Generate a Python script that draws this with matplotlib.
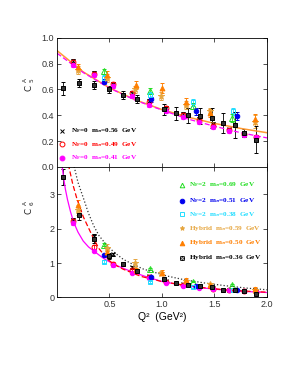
import matplotlib
matplotlib.use("Agg")
import matplotlib.pyplot as plt

# ---------------- C5^A (top panel) ----------------
x_nf0 = [0.155, 0.35, 0.53, 0.71, 0.88, 1.04, 1.20, 1.35, 1.49, 1.64, 1.78, 1.90]
c5_nf0_56 = [0.82, 0.73, 0.64, 0.575, 0.51, 0.46, 0.41, 0.37, 0.33, 0.29, 0.26, 0.225]
c5_nf0_49 = [0.815, 0.72, 0.64, 0.57, 0.50, 0.455, 0.40, 0.36, 0.32, 0.285, 0.255, 0.235]
c5_nf0_41 = [0.79, 0.71, 0.625, 0.55, 0.48, 0.435, 0.385, 0.35, 0.31, 0.28, 0.25, 0.235]
e5_nf0 = [0.015, 0.015, 0.015, 0.015, 0.015, 0.015, 0.015, 0.015, 0.015, 0.015, 0.015, 0.015]

x_nf2_69 = [0.45, 0.885, 1.30, 1.67]
c5_nf2_69 = [0.74, 0.59, 0.47, 0.38]
x_nf2_51 = [0.45, 0.90, 1.32, 1.71]
c5_nf2_51 = [0.66, 0.525, 0.43, 0.395]
x_nf2_38 = [0.45, 0.89, 1.30, 1.68]
c5_nf2_38 = [0.69, 0.56, 0.50, 0.43]
e5_nf2 = [0.02, 0.02, 0.025, 0.03]

x_hyb_59 = [0.20, 0.48, 0.74, 0.99, 1.23, 1.46, 1.89]
c5_hyb_59 = [0.75, 0.69, 0.60, 0.55, 0.48, 0.43, 0.35]
e5_hyb_59 = [0.03, 0.03, 0.03, 0.03, 0.03, 0.03, 0.05]
x_hyb_50 = [0.20, 0.48, 0.75, 1.00, 1.23, 1.46, 1.89]
c5_hyb_50 = [0.77, 0.71, 0.635, 0.61, 0.50, 0.42, 0.37]
e5_hyb_50 = [0.03, 0.03, 0.03, 0.04, 0.03, 0.03, 0.04]
x_hyb_36 = [0.06, 0.21, 0.355, 0.50, 0.63, 0.76, 1.02, 1.13, 1.25, 1.36, 1.48, 1.58, 1.70, 1.78, 1.90]
c5_hyb_36 = [0.61, 0.65, 0.635, 0.60, 0.555, 0.525, 0.445, 0.415, 0.40, 0.395, 0.38, 0.34, 0.325, 0.26, 0.21]
e5_hyb_36 = [0.05, 0.03, 0.03, 0.03, 0.03, 0.03, 0.04, 0.05, 0.06, 0.06, 0.08, 0.075, 0.10, 0.03, 0.105]

# fit curves
q_fit5 = [0.0, 0.25, 0.5, 0.75, 1.0, 1.25, 1.5, 1.75, 2.0]
c5_fit_solid = [0.90, 0.735, 0.612, 0.518, 0.444, 0.385, 0.337, 0.298, 0.265]
c5_fit_dash = [0.88, 0.73, 0.61, 0.515, 0.44, 0.37, 0.315, 0.265, 0.225]

# ---------------- C6^A (bottom panel) ----------------
c6_nf0_56 = [2.25, 1.80, 1.25, 0.88, 0.62, 0.48, 0.38, 0.31, 0.26, 0.22, 0.19, 0.16]
c6_nf0_49 = [2.22, 1.47, 0.98, 0.79, 0.58, 0.45, 0.36, 0.30, 0.25, 0.21, 0.18, 0.15]
c6_nf0_41 = [2.18, 1.36, 0.93, 0.72, 0.55, 0.42, 0.33, 0.28, 0.23, 0.20, 0.17, 0.15]
e6_nf0 = [0.06, 0.05, 0.04, 0.03, 0.03, 0.02, 0.02, 0.02, 0.02, 0.02, 0.02, 0.02]

c6_nf2_69 = [1.53, 0.82, 0.46, 0.36]
c6_nf2_51 = [1.22, 0.58, 0.33, 0.22]
c6_nf2_38 = [1.04, 0.45, 0.30, 0.20]
e6_nf2 = [0.04, 0.03, 0.02, 0.02]

c6_hyb_59 = [2.55, 1.45, 1.01, 0.70, 0.47, 0.38, 0.22]
e6_hyb_59 = [0.15, 0.10, 0.12, 0.06, 0.04, 0.04, 0.05]
c6_hyb_50 = [2.68, 1.33, 0.80, 0.72, 0.51, 0.36, 0.25]
e6_hyb_50 = [0.15, 0.08, 0.06, 0.08, 0.05, 0.04, 0.04]
c6_hyb_36 = [3.51, 2.39, 1.71, 1.21, 0.97, 0.77, 0.52, 0.41, 0.37, 0.34, 0.30, 0.20, 0.20, 0.17, 0.11]
e6_hyb_36 = [0.24, 0.15, 0.12, 0.08, 0.06, 0.05, 0.04, 0.03, 0.03, 0.03, 0.03, 0.05, 0.05, 0.03, 0.05]

q_mag = [0.04, 0.06, 0.08, 0.10, 0.13, 0.16, 0.20, 0.25, 0.30, 0.35, 0.45, 0.55, 0.70, 0.85,
         1.0, 1.2, 1.4, 1.6, 1.8, 2.0]
c6_mag = [4.05, 3.55, 3.15, 2.85, 2.48, 2.18, 1.90, 1.64, 1.47, 1.35, 1.12, 0.95, 0.76, 0.60,
          0.46, 0.35, 0.27, 0.21, 0.17, 0.14]
q_red = [0.10, 0.11, 0.15, 0.19, 0.25, 0.29, 0.35, 0.40, 0.48, 0.55, 0.63, 0.80, 1.0, 1.2,
         1.4, 1.6, 1.8, 2.0]
c6_red = [4.10, 3.85, 3.30, 2.87, 2.35, 2.09, 1.70, 1.42, 1.11, 0.95, 0.82, 0.61, 0.46, 0.36,
          0.28, 0.22, 0.18, 0.15]
q_blk = [0.15, 0.16, 0.20, 0.254, 0.30, 0.349, 0.40, 0.478, 0.55, 0.63, 0.73, 0.826, 1.05, 1.2,
         1.4, 1.6, 1.8, 2.0]
c6_blk = [4.00, 3.85, 3.35, 2.87, 2.45, 2.09, 1.80, 1.50, 1.30, 1.11, 0.95, 0.82, 0.62, 0.52,
          0.42, 0.34, 0.27, 0.22]

GREEN = "#22dd22"
BLUE = "#0000ee"
CYAN = "#22ddff"
LORANGE = "#e6a640"
ORANGE = "#ff7f00"
MAGENTA = "#ff00ff"
RED = "#ff0000"

W, H = 300, 388
fig = plt.figure(figsize=(3.0, 3.88), dpi=100)

# a bare axes over the left margin, in pixel units, only to hold the y labels
lab_ax = fig.add_axes([0.0, 0.0, 0.19, 1.0])
lab_ax.set_xlim(0, 57)
lab_ax.set_ylim(H, 0)
lab_ax.axis("off")

ax1 = fig.add_axes([0.19, 0.5696, 0.70, 0.3333])
ax2 = fig.add_axes([0.19, 0.2337, 0.70, 0.3359])


def ylabel_at(px, py, idx):
    kw = dict(rotation=90, ha="center", va="center", color="#222222")
    lab_ax.text(px, py, "C", fontsize=6.3, **kw)
    lab_ax.text(px - 3.5, py - 8, "A", fontsize=4.2, **kw)
    lab_ax.text(px + 3, py - 8, idx, fontsize=4.2, **kw)


ylabel_at(29, 88, "5")
ylabel_at(29, 211, "6")

ebkw = dict(linestyle="none", elinewidth=0.6, capsize=1.3, capthick=0.6, markeredgewidth=0.7)


def draw_points(ax, nf0, nf2, hyb):
    y56, y49, y41, e0 = nf0
    ax.errorbar(x_nf0, y56, yerr=e0, marker="x", ms=3.5, color="k", **ebkw)
    ax.errorbar(x_nf0, y49, yerr=e0, marker="o", ms=3.5, color=RED, mfc="none", **ebkw)
    ax.errorbar(x_nf0, y41, yerr=e0, marker="o", ms=3.2, color=MAGENTA, **ebkw)
    y69, y51, y38, e2 = nf2
    ax.errorbar(x_nf2_69, y69, yerr=e2, marker="^", ms=3.8, color=GREEN, mfc="none", **ebkw)
    ax.errorbar(x_nf2_51, y51, yerr=e2, marker="o", ms=3.3, color=BLUE, **ebkw)
    ax.errorbar(x_nf2_38, y38, yerr=e2, marker="s", ms=3.3, color=CYAN, mfc="none", **ebkw)
    h59, eh59, h50, eh50, h36, eh36 = hyb
    ax.errorbar(x_hyb_59, h59, yerr=eh59, marker="*", ms=4.5, color=LORANGE, **ebkw)
    ax.errorbar(x_hyb_50, h50, yerr=eh50, marker="^", ms=3.5, color=ORANGE, **ebkw)
    ax.errorbar(x_hyb_36, h36, yerr=eh36, marker="s", ms=3.5, color="k", mfc="#333333", **ebkw)
    ax.plot(x_hyb_36, h36, "x", ms=2.3, color="#bbbbbb", mew=0.6)


draw_points(ax1, (c5_nf0_56, c5_nf0_49, c5_nf0_41, e5_nf0),
            (c5_nf2_69, c5_nf2_51, c5_nf2_38, e5_nf2),
            (c5_hyb_59, e5_hyb_59, c5_hyb_50, e5_hyb_50, c5_hyb_36, e5_hyb_36))
ax1.plot(q_fit5, c5_fit_solid, "-", color="#ff9a33", lw=1.1)
ax1.plot(q_fit5, c5_fit_dash, "--", color=MAGENTA, lw=0.9, dashes=(4, 2))

draw_points(ax2, (c6_nf0_56, c6_nf0_49, c6_nf0_41, e6_nf0),
            (c6_nf2_69, c6_nf2_51, c6_nf2_38, e6_nf2),
            (c6_hyb_59, e6_hyb_59, c6_hyb_50, e6_hyb_50, c6_hyb_36, e6_hyb_36))
ax2.plot(q_mag, c6_mag, "-", color=MAGENTA, lw=0.9)
ax2.plot(q_red, c6_red, "--", color=RED, lw=0.9, dashes=(4, 2))
ax2.plot(q_blk, c6_blk, ":", color="#333333", lw=0.9)

ax1.set_ylim(0, 1.0)
ax1.set_yticks([0.0, 0.2, 0.4, 0.6, 0.8, 1.0])
ax1.set_yticklabels(["0.0", "0.2", "0.4", "0.6", "0.8", "1.0"])
ax2.set_ylim(0, 3.8)
ax2.set_yticks([0, 1, 2, 3])

for ax in (ax1, ax2):
    ax.set_xlim(0, 2.0)
    ax.set_xticks([0.5, 1.0, 1.5, 2.0])
    ax.set_xticklabels(["0.5", "1.0", "1.5", "2.0"])
    ax.tick_params(direction="in", top=True, right=True, length=3, width=0.6,
                   labelsize=6.5, pad=2, colors="#333333")
    for lbl in ax.get_xticklabels() + ax.get_yticklabels():
        lbl.set_family("Liberation Sans")
    for s in ax.spines.values():
        s.set_linewidth(0.6)
ax1.tick_params(labelbottom=False)
ax2.set_xlabel("Q²  (GeV²)", fontsize=7.5, labelpad=2, family="Liberation Sans")

# legends
lg_font = dict(fontsize=5.2, family="Liberation Serif", fontweight="bold", va="center",
               math_fontfamily="stix")
top_entries = [
    ("x", "k", "k", r"N$_\mathbf{F}$=0  m$_\mathbf{π}$=0.56  GeV", "k"),
    ("o", RED, "none", r"N$_\mathbf{F}$=0  m$_\mathbf{π}$=0.49  GeV", RED),
    ("o", MAGENTA, MAGENTA, r"N$_\mathbf{F}$=0  m$_\mathbf{π}$=0.41  GeV", MAGENTA),
]
top_rows = [0.279, 0.174, 0.07]
for (mk, c, fc, lab, tc), yy in zip(top_entries, top_rows):
    ax1.plot([0.024], [yy], mk, color=c, mfc=fc, ms=3.5, mew=0.7, transform=ax1.transAxes)
    ax1.text(0.066, yy, lab, color=tc, transform=ax1.transAxes, **lg_font)

bot_entries = [
    ("^", GREEN, "none", r"N$_\mathbf{F}$=2  m$_\mathbf{π}$=0.69  GeV", GREEN),
    ("o", BLUE, BLUE, r"N$_\mathbf{F}$=2  m$_\mathbf{π}$=0.51  GeV", BLUE),
    ("s", CYAN, "none", r"N$_\mathbf{F}$=2  m$_\mathbf{π}$=0.38  GeV", CYAN),
    ("*", LORANGE, LORANGE, r"Hybrid  m$_\mathbf{π}$=0.59  GeV", LORANGE),
    ("^", ORANGE, ORANGE, r"Hybrid  m$_\mathbf{π}$=0.50  GeV", ORANGE),
    ("s", "k", "#333333", r"Hybrid  m$_\mathbf{π}$=0.36  GeV", "k"),
]
bot_rows = [0.862, 0.739, 0.637, 0.529, 0.419, 0.305]
for (mk, c, fc, lab, tc), yy in zip(bot_entries, bot_rows):
    ax2.plot([0.595], [yy], mk, color=c, mfc=fc, ms=3.3, mew=0.7, transform=ax2.transAxes)
    ax2.text(0.63, yy, lab, color=tc, transform=ax2.transAxes, **lg_font)
ax2.plot([0.595], [bot_rows[-1]], "x", color="#bbbbbb", ms=2.2, mew=0.6, transform=ax2.transAxes)

fig.savefig("out.png", dpi=100)
